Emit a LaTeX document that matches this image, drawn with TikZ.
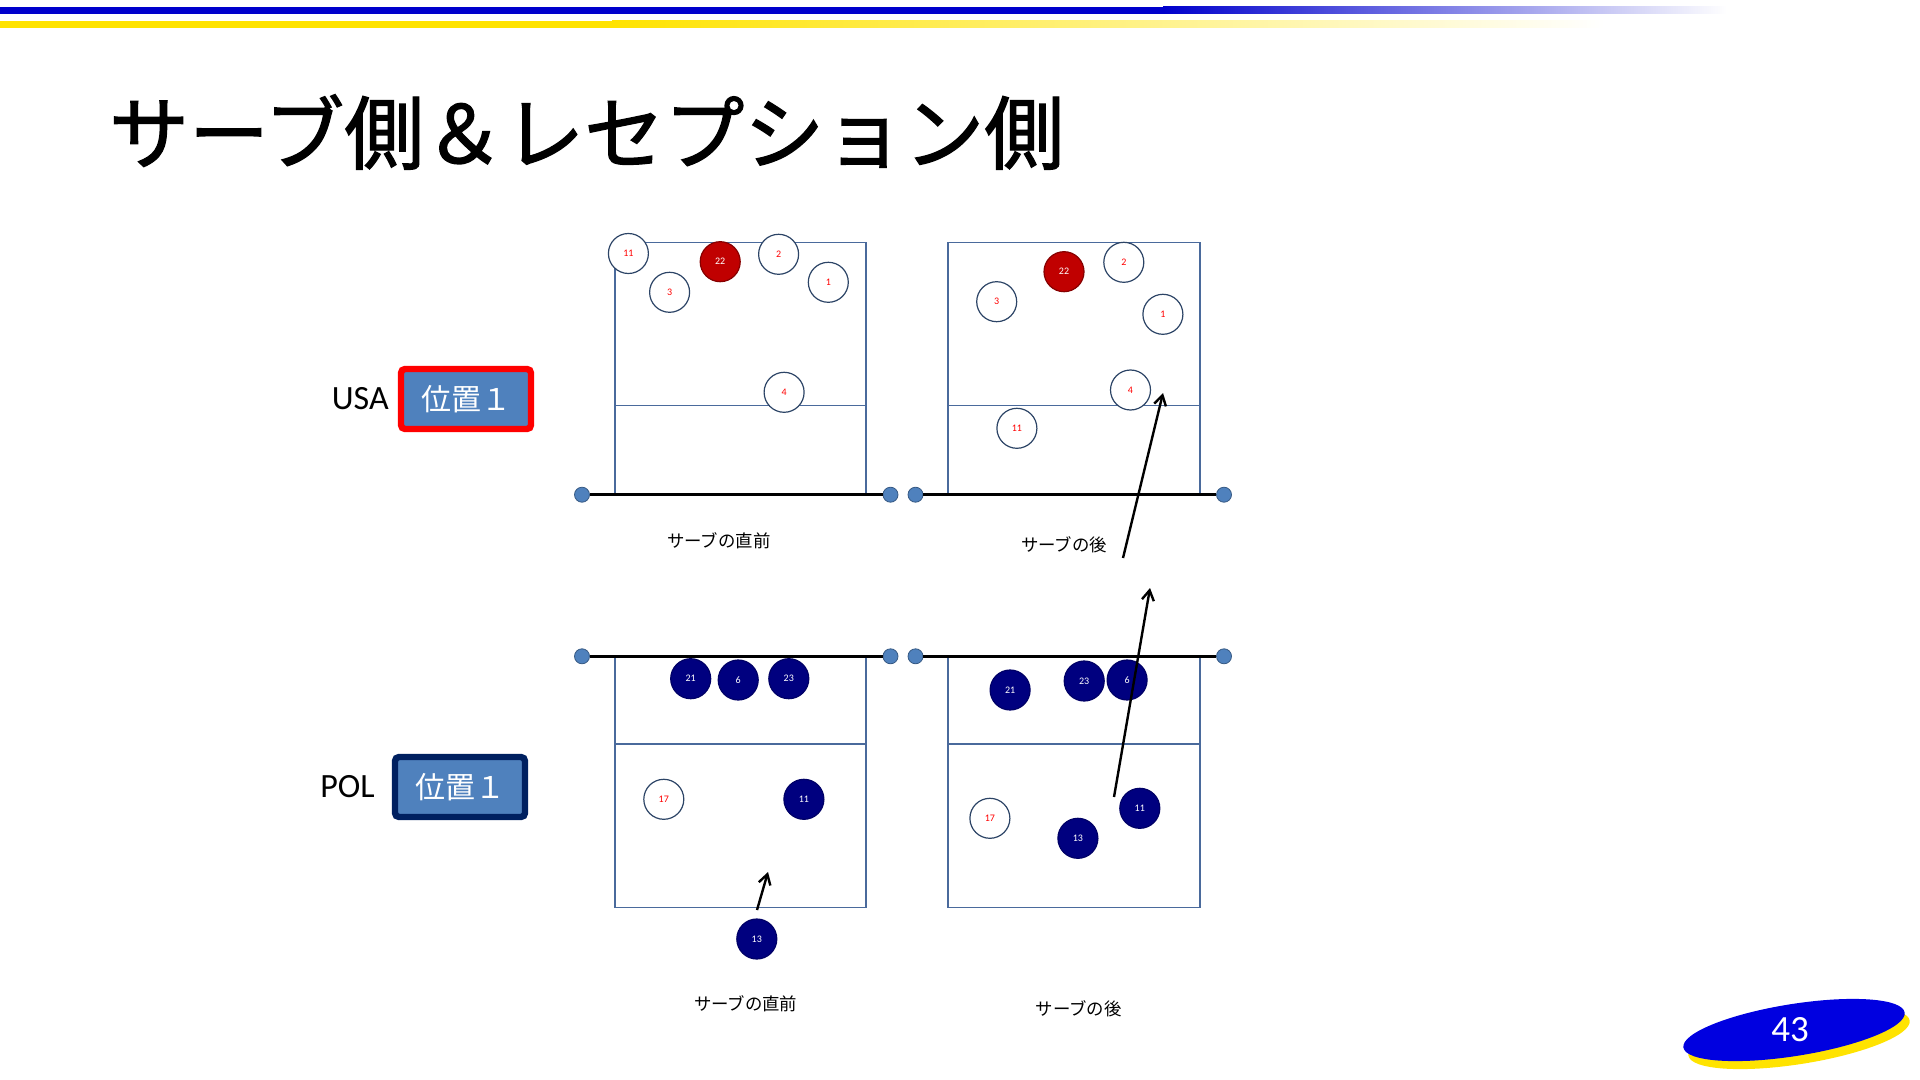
\documentclass[tikz,border=0pt]{standalone}
\usepackage{fontspec}
\setmainfont{Carlito}
\newfontfamily\jpfont{Noto Sans CJK JP}
\newfontfamily\jptitle{Noto Sans CJK JP}[FakeBold=1.6]
\usepackage{tikz}
\usetikzlibrary{arrows.meta, positioning, shapes}

\definecolor{courtline}{HTML}{4A6A9C}
\definecolor{ringline}{HTML}{2C4466}
\definecolor{usared}{HTML}{C00000}
\definecolor{polnavy}{HTML}{00007F}
\definecolor{netblue}{HTML}{4F81BD}
\definecolor{boxblue}{HTML}{4F81BD}
\definecolor{boxnavy}{HTML}{002060}
\definecolor{headblue}{HTML}{0000CC}
\definecolor{headyellow}{HTML}{FFE300}
\definecolor{pageblue}{HTML}{0000E0}

\begin{document}
\begin{tikzpicture}[x=0.5pt, y=-0.5pt, node distance=1pt,
    court/.style={draw=courtline, line width=0.8pt},
    player/.style={circle, draw=ringline, line width=0.6pt, fill=white, minimum size=20pt, inner sep=0pt, text=red, font=\fontsize{5pt}{6pt}\selectfont},
    usaplayer/.style={player, fill=usared, draw=usared!70!black, text=white},
    polplayer/.style={player, fill=polnavy, draw=polnavy!80!black, text=white},
    netdot/.style={circle, fill=netblue, draw=netblue!70!black, line width=0.4pt, minimum size=7.5pt, inner sep=0pt},
    netline/.style={line width=1.5pt},
    serve/.style={-{Straight Barb[length=5pt, width=6pt]}, line width=1.2pt},
    caption/.style={font=\jpfont\fontsize{8.7pt}{10pt}\selectfont},
    team/.style={font=\fontsize{17pt}{20pt}\selectfont},
    posbox/.style={fill=boxblue, rounded corners=2pt, line width=3.2pt, minimum width=65pt, minimum height=30pt, text=white, font=\jpfont\fontsize{15pt}{18pt}\selectfont}]
    \useasboundingbox (0,0) rectangle (1920,1080);

    % header bars
    \fill[headblue] (0,7) rectangle (1165,14);
    \shade[left color=headblue, right color=white] (1163,7) rectangle (1727,14);
    \fill[headyellow] (0,21) rectangle (614,28);
    \shade[left color=headyellow, right color=white] (612,21) rectangle (1604,28);

    \node[anchor=west, font=\jptitle\fontsize{40pt}{48pt}\selectfont] (title) at (102,132) {サーブ側＆レセプション側};

    % team labels
    \node[posbox, draw=red] (usapos) at (466,399) {位置１};
    \node[team, left=of usapos] (usa) {USA};
    \node[posbox, draw=boxnavy] (polpos) at (460,787) {位置１};
    \node[team, left=5pt of polpos] (pol) {POL};

    % courts
    \draw[court] (614.7,242.5) rectangle (865.7,494.7);
    \draw[court] (614.7,405.3) -- (865.7,405.3);
    \draw[court] (947.8,242.5) rectangle (1199.8,494.7);
    \draw[court] (947.8,405.3) -- (1199.8,405.3);
    \draw[court] (614.7,656.3) rectangle (865.7,907.5);
    \draw[court] (614.7,744) -- (865.7,744);
    \draw[court] (947.8,656.3) rectangle (1199.8,907.5);
    \draw[court] (947.8,744) -- (1199.8,744);

    % nets
    \node[netdot] (netA1) at (582,494.7) {};
    \node[netdot] (netA2) at (890.5,494.7) {};
    \node[netdot] (netB1) at (915.5,494.7) {};
    \node[netdot] (netB2) at (1224,494.7) {};
    \node[netdot] (netC1) at (582,656.3) {};
    \node[netdot] (netC2) at (890.5,656.3) {};
    \node[netdot] (netD1) at (915.5,656.3) {};
    \node[netdot] (netD2) at (1224,656.3) {};
    \draw[netline] (netA1) -- (netA2);
    \draw[netline] (netB1) -- (netB2);
    \draw[netline] (netC1) -- (netC2);
    \draw[netline] (netD1) -- (netD2);

    % USA before serve
    \node[player] (usaA11) at (628.4,253.5) {11};
    \node[usaplayer] (usaA22) at (720.2,261.7) {22};
    \node[player] (usaA2) at (778.6,254.3) {2};
    \node[player] (usaA3) at (669.6,292.3) {3};
    \node[player] (usaA1) at (828.3,282.3) {1};
    \node[player] (usaA4) at (784.1,392.3) {4};

    % USA after serve
    \node[usaplayer] (usaB22) at (1064,271.7) {22};
    \node[player] (usaB2) at (1123.8,262.3) {2};
    \node[player] (usaB3) at (996.7,301.7) {3};
    \node[player] (usaB1) at (1162.9,314.3) {1};
    \node[player] (usaB4) at (1130.5,390) {4};
    \node[player] (usaB11) at (1016.9,428.3) {11};

    % POL before serve
    \node[polplayer] (polC21) at (690.7,678.7) {21};
    \node[polplayer] (polC6) at (738.2,680) {6};
    \node[polplayer] (polC23) at (788.8,678.7) {23};
    \node[player] (polC17) at (663.8,799.3) {17};
    \node[polplayer] (polC11) at (803.9,799.3) {11};
    \node[polplayer] (polC13) at (756.8,939) {13};

    % POL after serve
    \node[polplayer] (polD21) at (1010.1,690) {21};
    \node[polplayer] (polD23) at (1084.2,681) {23};
    \node[polplayer] (polD6) at (1127.1,680) {6};
    \node[player] (polD17) at (989.9,818.3) {17};
    \node[polplayer] (polD13) at (1077.9,838.3) {13};
    \node[polplayer] (polD11) at (1139.8,808.3) {11};

    % serve paths
    \coordinate (srvB) at (1123,558);
    \coordinate (srvBend) at (1163,393);
    \draw[serve] (srvB) -- (srvBend);
    \coordinate (srvD) at (1114,797);
    \coordinate (srvDend) at (1150,588);
    \draw[serve] (srvD) -- (srvDend);
    \coordinate (srvC) at (757,910);
    \coordinate (srvCend) at (768,872);
    \draw[serve] (srvC) -- (srvCend);

    \node[caption] (capA) at (718.8,541.2) {サーブの直前};
    \node[caption] (capB) at (1064,545) {サーブの後};
    \node[caption] (capC) at (745.7,1004) {サーブの直前};
    \node[caption] (capD) at (1078.8,1009) {サーブの後};

    % page number
    \fill[headyellow, rotate around={9:(1799,1038)}] (1799,1038) ellipse (112 and 26);
    \fill[pageblue, rotate around={9:(1794,1030)}] (1794,1030) ellipse (112 and 26);
    \node[text=white, font=\fontsize{18.5pt}{22pt}\selectfont] (pagenum) at (1790,1030) {43};
\end{tikzpicture}
\end{document}
